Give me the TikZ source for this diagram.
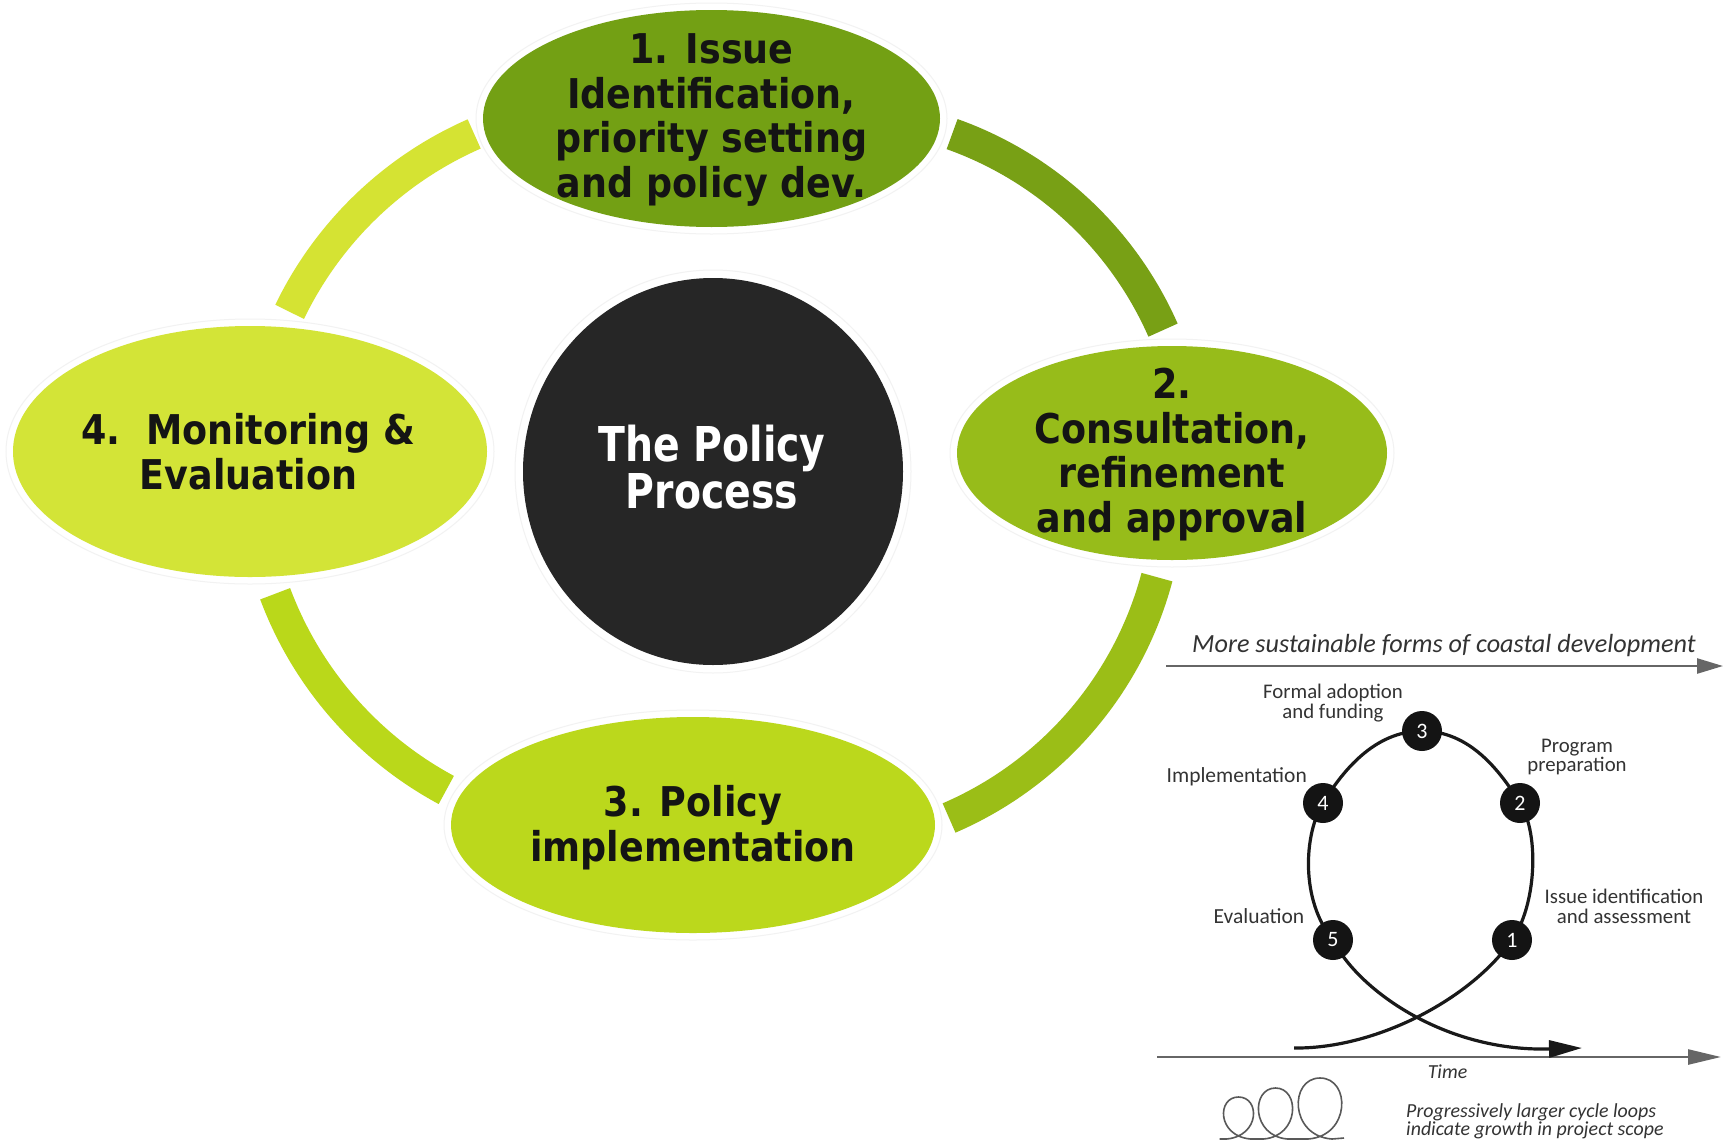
\documentclass[tikz,border=0pt]{standalone}
\usepackage{fontspec}
\setmainfont{DejaVu Sans}
\newfontfamily\nodefont{DejaVu Sans}[FakeStretch=0.89]
\newfontfamily\hubfont{DejaVu Sans}[FakeStretch=0.82]
\newfontfamily\gillfont{Carlito}
\usetikzlibrary{shapes.geometric,arrows.meta}
\definecolor{gA}{HTML}{73A014}
\definecolor{gB}{HTML}{97BC1A}
\definecolor{gC}{HTML}{BBD81C}
\definecolor{gD}{HTML}{D3E437}
\definecolor{aA}{HTML}{78A015}
\definecolor{aB}{HTML}{9BBE17}
\definecolor{aC}{HTML}{BAD81A}
\definecolor{aD}{HTML}{D5E333}
\definecolor{ink}{HTML}{262626}
\definecolor{txt}{HTML}{333333}
\begin{document}
\begin{tikzpicture}[x=1pt,y=-1pt,
  ring/.style={line width=32pt},
  halo/.style={ellipse,fill=white,draw=black!5,line width=1pt,inner sep=0pt},
  stage/.style={ellipse,inner sep=0pt},
  stagetext/.style={align=center,inner sep=0pt,text=black!92,
    font=\nodefont\bfseries\fontsize{41}{44.5}\selectfont},
  hubtext/.style={align=center,inner sep=0pt,text=white,
    font=\hubfont\bfseries\fontsize{48}{45}\selectfont},
  lab/.style={inner sep=0pt,text=txt,font=\gillfont\fontsize{21.5}{17}\selectfont},
  lab2/.style={inner sep=0pt,text=txt,align=center,
    font={\gillfont\fontsize{20.8}{19.5}\selectfont\lineskiplimit=-30pt}},
  ilab/.style={inner sep=0pt,text=txt,font=\gillfont\itshape\fontsize{19.9}{17}\selectfont},
  ilab2/.style={inner sep=0pt,text=txt,align=left,
    font={\gillfont\itshape\fontsize{19.9}{18}\selectfont\lineskiplimit=-30pt}},
  dot/.style={circle,fill=black!92,text=white,minimum size=40pt,inner sep=0pt,
    font=\gillfont\fontsize{22}{22}\selectfont},
  axis/.style={draw=black!60,line width=2.5pt},
  loopline/.style={draw=black!90,line width=3.2pt},
  smallloop/.style={draw=black!65,line width=1.6pt}]
\useasboundingbox (0,0) rectangle (1724,1146);
\fill[white] (0,0) rectangle (1724,1146);

% ring arcs
\draw[ring,aA] plot[domain=70.4:23.8,samples=60] ({830+364*cos(\x)},{477-364*sin(\x)});
\draw[ring,aB] plot[domain=-14.9:-66.7,samples=60] ({805+364.2*cos(\x)},{483.5-364.2*sin(\x)});
\draw[ring,aD] plot[domain=113.7:154.2,samples=60] ({623+370.3*cos(\x)},{473-370.3*sin(\x)});
\draw[ring,aC] plot[domain=200.5:241.7,samples=60] ({621.7+370*cos(\x)},{464.2-370*sin(\x)});

% halos
\node[halo,minimum width=471pt,minimum height=231pt] (h1) at (711.5,118.5) {};
\node[halo,minimum width=444pt,minimum height=228pt] (h2) at (1172,453) {};
\node[halo,minimum width=498pt,minimum height=230pt] (h3) at (693,825) {};
\node[halo,minimum width=488pt,minimum height=265pt] (h4) at (250,451.5) {};
\node[halo,minimum width=396pt,minimum height=403pt] (h0) at (713,471.5) {};

% stages
\node[stage,fill=gA,minimum width=457pt,minimum height=217pt] (s1) at (711.5,118.5) {};
\node[stage,fill=gB,minimum width=430pt,minimum height=214pt] (s2) at (1172,453) {};
\node[stage,fill=gC,minimum width=484pt,minimum height=216pt] (s3) at (693,825) {};
\node[stage,fill=gD,minimum width=474pt,minimum height=251pt] (s4) at (250,451.5) {};
\node[stage,fill=ink,minimum width=380pt,minimum height=387pt] (hub) at (713,471.5) {};

\node[stagetext] (t1) at (711.5,120) {1. Issue\\Identification,\\priority setting\\and policy dev.};
\node[stagetext] (t2) at (1172,454.5) {2.\\Consultation,\\refinement\\and approval};
\node[stagetext] (t3) at (693,827.5) {3. Policy\\implementation};
\node[stagetext] (t4) at (248.5,451.75) {4.\ \ Monitoring \&\\Evaluation};
\node[hubtext] (t0) at (712,467) {The Policy\\Process};

% coastal development cycle
\coordinate (ax1s) at (1166,666);
\coordinate (ax1e) at (1723,666);
\coordinate (ax2s) at (1157,1057);
\coordinate (ax2e) at (1721,1057);
\draw[axis,-{Triangle[length=26pt,width=15pt]}] (ax1s) -- (ax1e);
\draw[axis,-{Triangle[length=33pt,width=15pt]}] (ax2s) -- (ax2e);
\node[anchor=base west,inner sep=0pt,text=txt,font=\gillfont\itshape\fontsize{26.2}{28}\selectfont]
  (title) at (1192,652) {More sustainable forms of coastal development};

\coordinate (k1) at (1512,940);
\coordinate (k2) at (1520,803);
\coordinate (k3) at (1422,731);
\coordinate (k4) at (1323,803);
\coordinate (k5) at (1333,940);
\coordinate (lstart) at (1294,1048);
\coordinate (lend) at (1582,1048);
\draw[loopline,-{Triangle[length=33pt,width=17pt]}] (lstart)
  .. controls (1375,1049) and (1470,1000) .. (k1)
  .. controls (1536,906) and (1540,835) .. (k2)
  .. controls (1500,771) and (1470,731) .. (k3)
  .. controls (1374,731) and (1342,772) .. (k4)
  .. controls (1304,834) and (1300,900) .. (k5)
  .. controls (1358,990) and (1445,1052) .. (lend);
\node[dot] (c1) at (k1) {1};
\node[dot] (c2) at (k2) {2};
\node[dot] (c3) at (k3) {3};
\node[dot] (c4) at (k4) {4};
\node[dot] (c5) at (k5) {5};

\node[lab2] (l3) at (1333,703) {Formal adoption\\and funding};
\node[lab2] (l2) at (1577,757) {Program\\preparation};
\node[lab,anchor=base east] (l4) at (1307,782) {Implementation};
\node[lab2] (l1) at (1624,906.5) {Issue identification\\and assessment};
\node[lab,anchor=base east] (l5) at (1304.5,923) {Evaluation};
\node[ilab,anchor=base] (time) at (1447.5,1078) {Time};

\draw[smallloop] (1219.5,1139) -- (1226.5,1139)
  .. controls (1260.2,1136) and (1260.2,1097) .. (1238.5,1097)
  .. controls (1216.8,1097) and (1216.8,1136) .. (1250.5,1139) -- (1263.5,1139)
  .. controls (1300,1136) and (1300,1088) .. (1275.5,1088)
  .. controls (1251,1088) and (1251,1136) .. (1287.5,1139) -- (1308,1139)
  .. controls (1350.8,1136) and (1350.8,1078) .. (1320,1078)
  .. controls (1289.2,1078) and (1289.2,1136) .. (1332,1139) -- (1344,1138);
\node[ilab2,anchor=north west] (notes) at (1406,1103)
  {Progressively larger cycle loops\\indicate growth in project scope};
\end{tikzpicture}
\end{document}
